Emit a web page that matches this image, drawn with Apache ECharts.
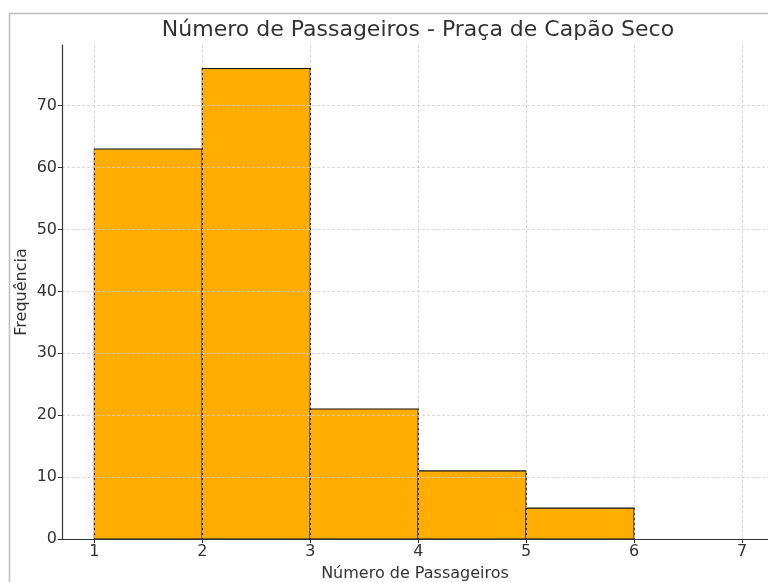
<!DOCTYPE html>
<html>
<head>
<meta charset="utf-8">
<script src="https://cdn.jsdelivr.net/npm/echarts@6/dist/echarts.min.js"></script>
<style>
  html, body { margin: 0; padding: 0; background: #fff; }
  #chart { width: 768px; height: 582px; }
</style>
</head>
<body>
<div id="chart"></div>
<script>
// limites das classes do histograma e frequências
const binEdges = [1, 2, 3, 4, 5, 6, 7]
const counts = [63, 76, 21, 11, 5, 0]
const xTicks = [1, 2, 3, 4, 5, 6, 7]
const yTicks = [0, 10, 20, 30, 40, 50, 60, 70]

const bins = counts.map((c, i) => [binEdges[i], binEdges[i + 1], c])

const myChart = echarts.init(document.getElementById('chart'))
const font = 'DejaVu Sans'

const option = {
  backgroundColor: '#fff',
  animation: false,
  title: {
    text: 'Número de Passageiros - Praça de Capão Seco',
    left: 418,
    textAlign: 'center',
    top: 19,
    padding: 0,
    textStyle: { fontFamily: font, fontSize: 22, fontWeight: 'normal', color: '#333' }
  },
  graphic: [{
    // moldura cinza da figura
    type: 'rect',
    shape: { x: 9.5, y: 13.5, width: 800, height: 600 },
    style: { fill: 'none', stroke: '#bdbdbd', lineWidth: 1.5 },
    silent: true
  }],
  // o gráfico original é cortado na borda direita
  grid: { left: 62, top: 45, right: 0, bottom: 43, containLabel: false, outerBoundsMode: 'none' },
  xAxis: {
    type: 'value',
    min: 0.7,
    max: 7.24,
    z: 3,
    name: 'Número de Passageiros',
    nameLocation: 'middle',
    nameGap: 27,
    nameTextStyle: { fontFamily: font, fontSize: 16, color: '#333', verticalAlign: 'top' },
    axisLine: { show: true, onZero: false, lineStyle: { color: '#333', width: 1.2 } },
    axisTick: { show: true, length: 4, customValues: xTicks, lineStyle: { color: '#333' } },
    axisLabel: { customValues: xTicks, fontFamily: font, fontSize: 16, color: '#333', margin: 5 },
    splitLine: { show: true, lineStyle: { color: '#cfcfcf', type: [3, 2], width: 0.8 } }
  },
  yAxis: {
    type: 'value',
    min: 0,
    max: 79.8,
    z: 3,
    name: 'Frequência',
    nameLocation: 'middle',
    nameMoveOverlap: false,
    nameGap: 32,
    nameTextStyle: { fontFamily: font, fontSize: 16, color: '#333' },
    axisLine: { show: true, onZero: false, lineStyle: { color: '#333', width: 1.2 } },
    axisTick: { show: true, length: 4, customValues: yTicks, lineStyle: { color: '#333' } },
    axisLabel: { customValues: yTicks, fontFamily: font, fontSize: 16, color: '#333', margin: 5 },
    splitLine: { show: true, lineStyle: { color: '#cfcfcf', type: [3, 2], width: 0.8 } }
  },
  series: [{
    type: 'custom',
    z: 2,
    data: bins,
    renderItem: function (params, api) {
      const h = api.value(2)
      if (!h) return null
      const p0 = api.coord([api.value(0), 0])
      const p1 = api.coord([api.value(1), h])
      return {
        type: 'rect',
        shape: { x: p0[0], y: p1[1], width: p1[0] - p0[0], height: p0[1] - p1[1] },
        style: { fill: '#ffad00', stroke: '#111', lineWidth: 1.2 }
      }
    }
  }]
}
myChart.setOption(option, true)
</script>
</body>
</html>
